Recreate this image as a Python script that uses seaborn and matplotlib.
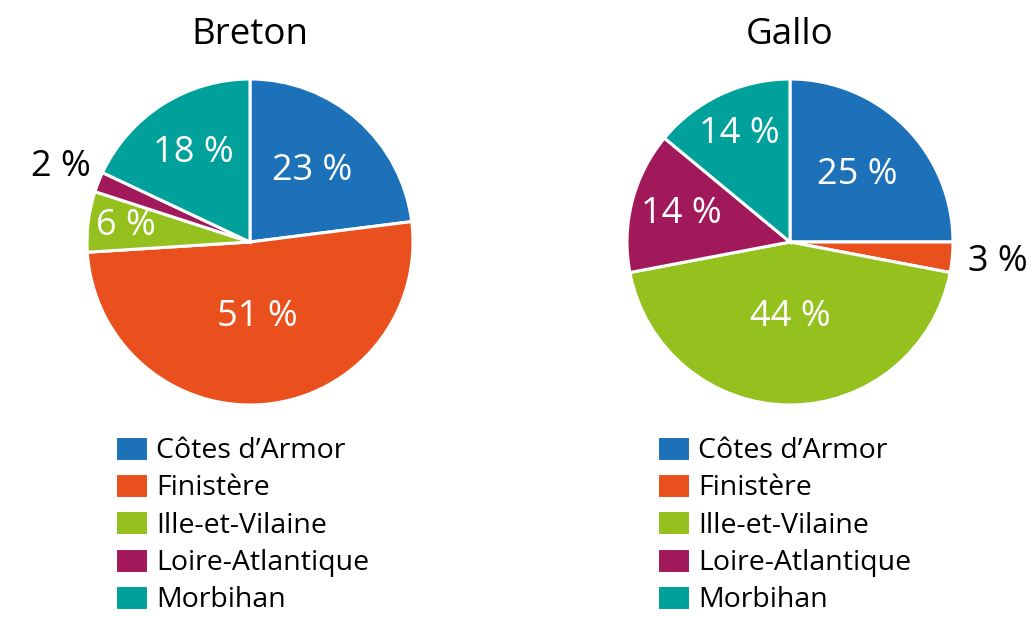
import matplotlib
matplotlib.use("Agg")
import matplotlib.pyplot as plt
import seaborn as sns
import numpy as np

departements = ["Côtes d\u2019Armor", "Finistère", "Ille-et-Vilaine", "Loire-Atlantique", "Morbihan"]
breton = [23, 51, 6, 2, 18]
gallo = [25, 3, 44, 14, 14]
colors = ["#1d71b8", "#e9501d", "#95c11f", "#a2195b", "#00a19a"]

# label distances from centre (fraction of radius), outside labels > 1
breton_dist = [0.58, 0.46, 0.77, 1.25, 0.65]
gallo_dist = [0.58, 1.28, 0.46, 0.69, 0.73]

sns.set_theme(style="white")
plt.rcParams["font.family"] = ["Open Sans", "DejaVu Sans"]
plt.rcParams["text.color"] = "black"

W, H = 1033, 617
fig = plt.figure(figsize=(W / 100, H / 100), dpi=100)
palette = sns.color_palette(colors)


def draw(cx, cy, r, values, dists, title, legend_x):
    ax = fig.add_axes([(cx - r) / W, (H - cy - r) / H, 2 * r / W, 2 * r / H])
    wedges, _ = ax.pie(values, colors=palette, startangle=90, counterclock=False,
                       wedgeprops=dict(edgecolor="white", linewidth=2.2))
    ax.set_xlim(-1, 1)
    ax.set_ylim(-1, 1)
    for w, v, d in zip(wedges, values, dists):
        ang = np.deg2rad((w.theta1 + w.theta2) / 2)
        col = "white" if d < 1 else "black"
        ax.text(d * np.cos(ang), d * np.sin(ang), f"{v} %", ha="center", va="center",
                color=col, fontsize=26, clip_on=False)
    fig.text(cx / W, 1 - 35 / H, title, ha="center", va="center", fontsize=26.5)
    fig.legend(wedges, departements, loc="upper left",
               bbox_to_anchor=(legend_x / W, 1 - 436 / H), bbox_transform=fig.transFigure,
               frameon=False, fontsize=20.5, borderpad=0, borderaxespad=0,
               handlelength=1.15, handleheight=0.97, handletextpad=0.3, labelspacing=0.28)


draw(250, 242, 163, breton, breton_dist, "Breton", 115)
draw(790, 242, 163, gallo, gallo_dist, "Gallo", 657)

fig.savefig("out.png", dpi=100)
